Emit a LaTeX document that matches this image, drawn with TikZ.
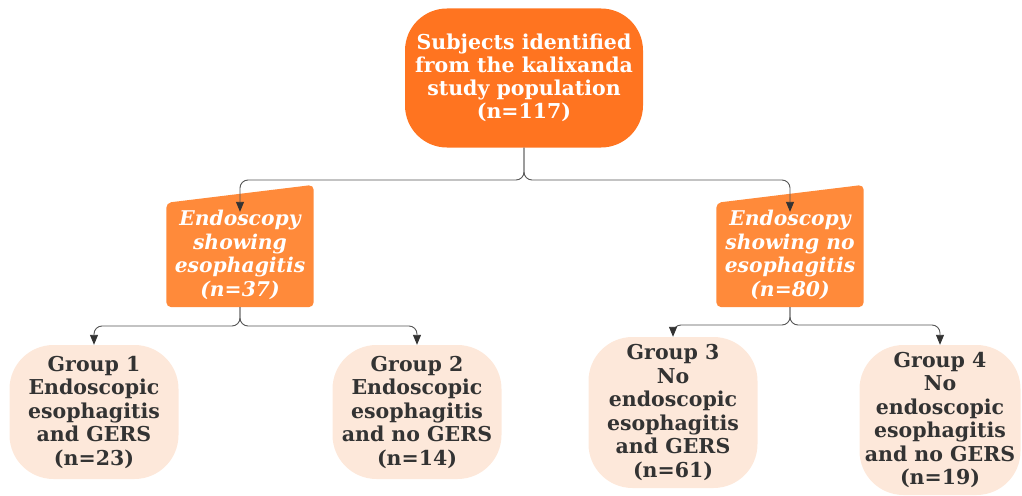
\documentclass[tikz,border=0pt]{standalone}
\usepackage{fontspec}
\setmainfont{DejaVu Serif}
\usetikzlibrary{arrows.meta, backgrounds, calc}

\definecolor{topfill}{HTML}{FF7420}
\definecolor{midfill}{HTML}{FF8A3A}
\definecolor{grpfill}{HTML}{FDE8DA}
\definecolor{grptext}{HTML}{333333}
\definecolor{linkgray}{HTML}{555555}

\tikzset{
  topbox/.style={fill=topfill, rounded corners=42pt, text=white, align=center,
    font=\bfseries\fontsize{20.5}{23}\selectfont,
    minimum width=238pt, minimum height=139pt, inner sep=0pt},
  midbox/.style={text=white, align=center,
    font=\bfseries\itshape\fontsize{20.3}{23.5}\selectfont,
    minimum width=147pt, minimum height=104pt, inner sep=0pt},
  grpbox/.style={fill=grpfill, rounded corners=44pt, text=grptext, align=center,
    font=\bfseries\fontsize{20.5}{23.5}\selectfont,
    minimum width=169pt, minimum height=134pt, inner sep=0pt},
  link/.style={draw=linkgray, line width=0.9pt, rounded corners=8pt,
    -{Triangle[length=10pt, width=8pt, color=black!80]}}
}

\begin{document}
\begin{tikzpicture}[x=1pt, y=-1pt]
  \useasboundingbox (0,0) rectangle (1022,495);

  % top
  \node [topbox] (top) at (524,78) {Subjects identified\\from the kalixanda\\study population\\(n=117)};

  % endoscopy
  \node [midbox] (m1) at (240,255) {Endoscopy\\showing\\esophagitis\\(n=37)};
  \node [midbox] (m2) at (790,255) {Endoscopy\\showing no\\esophagitis\\(n=80)};

  \begin{scope}[on background layer]
    \foreach \n in {m1, m2}
      \fill [midfill, rounded corners=5pt] (\n.south west) -- (\n.north west)
        -- ($(\n.north east)+(0,18pt)$) -- (\n.south east) -- cycle;
  \end{scope}

  % groups
  \node [grpbox] (g1) at (94,412) {Group 1\\Endoscopic\\esophagitis\\and GERS\\(n=23)};
  \node [grpbox] (g2) at (417,412) {Group 2\\Endoscopic\\esophagitis\\and no GERS\\(n=14)};
  \node [grpbox, minimum height=151pt] (g3) at (673,412.5) {Group 3\\No\\endoscopic\\esophagitis\\and GERS\\(n=61)};
  \node [grpbox, minimum width=161pt, minimum height=150pt] (g4) at (940,420) {Group 4\\No\\endoscopic\\esophagitis\\and no GERS\\(n=19)};

  % links
  \coordinate (b0) at (524,180);
  \coordinate (b1) at (240,326);
  \coordinate (b2) at (790,325);

  \draw [link, shorten >=-9pt] (top.south) -- (b0) -| (m1.north);
  \draw [link, shorten >=-9pt] (top.south) -- (b0) -| (m2.north);
  \draw [link] (m1.south) -- (b1) -| (g1.north);
  \draw [link] (m1.south) -- (b1) -| (g2.north);
  \draw [link] (m2.south) -- (b2) -| (g3.north);
  \draw [link] (m2.south) -- (b2) -| (g4.north);
\end{tikzpicture}
\end{document}
